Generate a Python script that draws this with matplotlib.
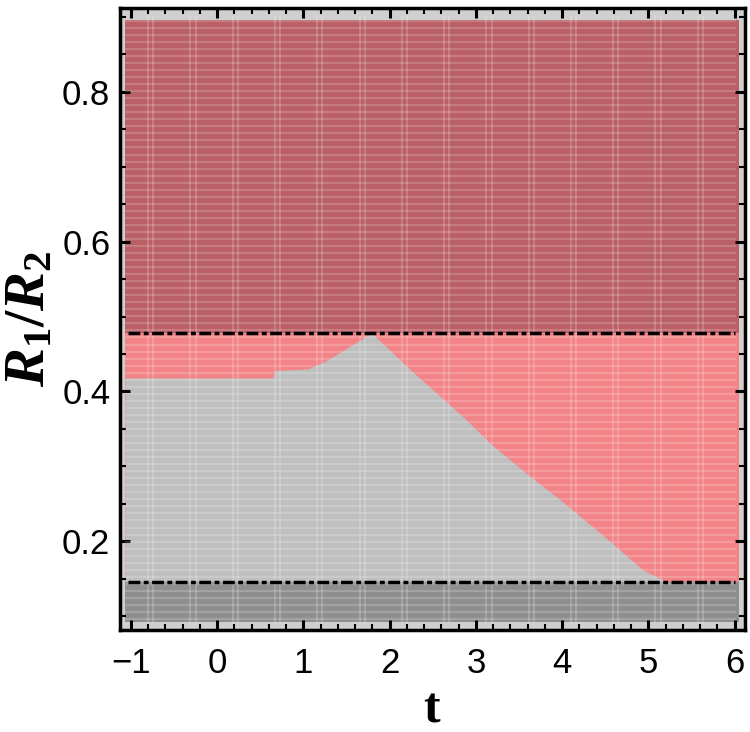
import numpy as np
import matplotlib.pyplot as plt
from matplotlib.ticker import MultipleLocator

plt.rcParams['font.family'] = ['Liberation Sans', 'DejaVu Sans']
plt.rcParams['mathtext.fontset'] = 'custom'
plt.rcParams['mathtext.rm'] = 'Liberation Serif:bold'
plt.rcParams['mathtext.it'] = 'Liberation Serif:bold:italic'
plt.rcParams['mathtext.bf'] = 'Liberation Serif:bold'

# data
t_min, t_max = -1.07, 6.05
r_min, r_max = 0.092, 0.896
r_upper = 0.478   # upper dash-dot line
r_lower = 0.146   # lower dash-dot line

# boundary between the gray and the light red region
bound_t = [-1.07, 0.65, 0.67, 1.05, 1.25, 1.79, 2.23, 2.87, 3.19, 3.6, 4.0, 4.5, 4.93, 5.2, 6.05]
bound_r = [0.418, 0.418, 0.428, 0.430, 0.440, 0.478, 0.430, 0.364, 0.328, 0.289, 0.253, 0.205, 0.162, 0.146, 0.146]

c_top = '#ba5f66'
c_red = '#f28488'
c_gray = '#bfbfbf'
c_dark = '#8e8e8e'
c_bg = '#cfcfcf'

fig = plt.figure(figsize=(7.5, 7.32), dpi=100)
ax = fig.add_axes([0.16, 0.139, 0.833, 0.850])
ax.set_facecolor(c_bg)

# regions
ax.fill_between([t_min, t_max], r_upper, r_max, color=c_top, lw=0)
ax.fill_between([t_min, t_max], r_lower, r_upper, color=c_red, lw=0)
ax.fill_between(bound_t, r_lower, bound_r, color=c_gray, lw=0)
ax.fill_between([t_min, t_max], r_min, r_lower, color=c_dark, lw=0)

# sampling texture
for r in np.arange(r_min + 0.004, r_max, 0.0094):
    ax.axhline(r, xmin=0.01, xmax=0.985, color='white', alpha=0.18, lw=1.6)
for t in np.arange(-0.8, 6.0, 0.49):
    ax.axvline(t, ymin=0.013, ymax=0.985, color='white', alpha=0.22, lw=1.2)
    ax.axvline(t + 0.06, ymin=0.013, ymax=0.985, color='white', alpha=0.22, lw=1.2)

ax.hlines([r_upper, r_lower], -1.04, 6.0, colors='black', lw=2.5,
          linestyles=(0, (3.4, 1.0, 1.4, 1.0)))

ax.set_xlim(-1.127, 6.116)
ax.set_ylim(0.081, 0.912)

ax.xaxis.set_major_locator(MultipleLocator(1))
ax.xaxis.set_minor_locator(MultipleLocator(0.2))
ax.yaxis.set_major_locator(MultipleLocator(0.2))
ax.yaxis.set_minor_locator(MultipleLocator(0.05))
ax.tick_params(which='both', direction='in', top=True, right=True, color='black')
ax.tick_params(which='major', length=7, width=2.2, labelsize=25)
ax.tick_params(axis='y', which='major', pad=7)
ax.tick_params(axis='x', which='major', pad=12)
ax.tick_params(which='minor', length=4, width=1.5)
for s in ax.spines.values():
    s.set_linewidth(2.5)

ax.set_xlabel(r'$\mathrm{t}$', fontsize=36, labelpad=4)
ax.set_ylabel(r'$R_1/R_2$', fontsize=42, labelpad=4)

fig.savefig('out.png', dpi=100)
